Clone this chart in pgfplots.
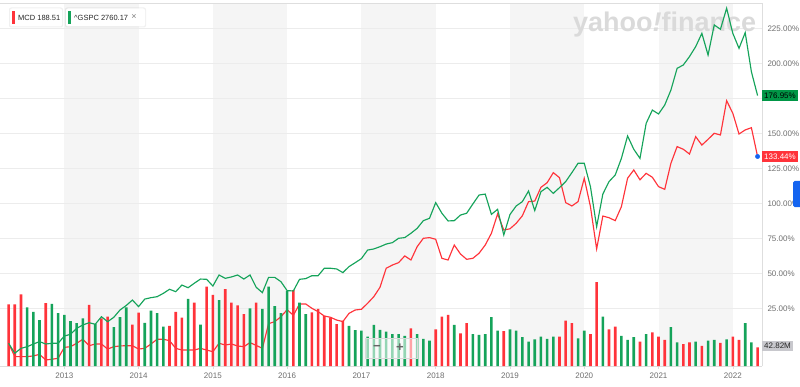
\documentclass[border=0pt]{standalone}
\usepackage{pgfplots}
\pgfplotsset{compat=1.18}
\usepackage{pgfplotstable}
\usepackage{fontspec}
\setmainfont{Liberation Sans}

\definecolor{ured}{RGB}{255,51,58}
\definecolor{ugreen}{RGB}{21,163,90}
\definecolor{gbox}{RGB}{0,150,70}
\definecolor{bandc}{RGB}{245,245,245}
\definecolor{gridc}{RGB}{236,236,236}
\definecolor{linec}{RGB}{222,222,222}
\definecolor{tickc}{RGB}{110,110,110}
\definecolor{legtext}{RGB}{40,40,40}
\definecolor{wmark}{RGB}{218,218,218}
\definecolor{bluedot}{RGB}{20,100,240}
\definecolor{volbox}{RGB}{200,200,205}

\pgfplotstableread{
i mcd spx
0 0 0
1 -9.5 -7.1
2 -9.5 -3.6
3 -9.5 -2.4
4 -9.0 -0.5
5 -7.9 1.2
6 -11.9 -0.5
7 -11.4 0
8 -10.7 0
9 -2.9 5.2
10 -2.4 6.4
11 0 10.7
12 2.9 13.1
13 -1.7 14.7
14 -0.5 13.6
15 -0.5 19.0
16 -4.1 15.4
17 -2.4 18.6
18 -1.9 23.8
19 -1.7 27.0
20 -1.7 30.9
21 -4.1 26.2
22 -3.6 31.6
23 -0.5 32.6
24 2.9 33.3
25 2.9 35.7
26 1.9 38.6
27 -3.6 36.9
28 -4.8 41.6
29 -4.8 39.7
30 -4.8 42.9
31 -3.6 45.9
32 -4.8 45.7
33 -6.0 40.9
34 0 48.8
35 -1.2 46.4
36 -0.5 47.4
37 -1.9 48.8
38 -2.4 45.9
39 0.5 48.8
40 -1.5 40.0
41 -3.6 36.2
42 14.0 47.1
43 15.5 47.1
44 19.0 44.0
45 24.0 37.6
46 20.0 37.4
47 28.1 45.7
48 28.1 46.2
49 25.0 48.3
50 22.6 48.3
51 19.5 53.6
52 18.6 53.6
53 16.6 53.1
54 15.5 50.5
55 21.4 54.8
56 23.8 57.6
57 24.3 60.5
58 28.6 66.6
59 33.3 67.4
60 40.0 69.0
61 53.6 70.9
62 55.9 71.9
63 57.6 75.0
64 62.4 75.5
65 59.5 78.6
66 69.0 82.1
67 75.0 87.6
68 75.5 89.3
69 74.3 100.5
70 60.7 92.9
71 59.5 87.4
72 70.2 87.6
73 63.8 91.6
74 60.0 92.9
75 60.7 99.5
76 64.3 105.9
77 70.2 106.6
78 78.6 92.1
79 92.4 95.7
80 80.9 77.4
81 81.8 92.0
82 85.7 98.1
83 91.1 101.2
84 101.2 108.8
85 101.6 94.8
86 111.4 108.3
87 114.7 111.4
88 121.9 107.1
89 118.3 111.2
90 100.5 115.5
91 98.1 121.9
92 101.2 128.6
93 117.9 128.6
94 97.6 111.9
95 67.4 83.3
96 90.9 106.6
97 89.7 115.5
98 87.6 120.2
99 97.6 132.1
100 117.9 148.1
101 123.8 138.6
102 116.8 132.1
103 121.4 157.1
104 118.6 166.6
105 111.9 163.8
106 110.0 170.2
107 128.6 180.9
108 140.5 196.4
109 138.6 198.8
110 135.2 204.8
111 147.6 211.9
112 141.6 221.4
113 145.7 205.9
114 150.0 227.4
115 148.8 224.3
116 173.3 239.3
117 164.3 221.4
118 149.5 210.7
119 152.4 221.9
120 154.0 194.0
121 133.44 176.95
}\lines

\pgfplotstableread{
i v
0 141
1 141
2 164
6 144
13 140
15 109
16 113
20 95
21 122
26 92
27 124
28 111
30 145
32 182
33 163
35 176
36 145
37 139
38 119
40 145
46 174
49 123
50 131
51 115
52 111
53 96
54 104
65 86
69 84
70 113
71 117
73 75
74 98
80 80
89 67
90 104
91 98
94 73
95 192
97 84
98 90
102 56
104 77
105 67
106 60
109 50
110 54
112 46
115 53
117 67
118 60
121 42.82
}\volred

\pgfplotstableread{
i v
3 134
4 124
5 105
7 142
8 121
9 117
10 103
11 98
12 109
14 96
17 89
18 112
19 134
22 99
23 127
24 121
25 90
29 154
31 95
34 151
39 132
41 131
42 182
43 137
44 121
45 172
47 145
48 119
55 92
56 82
57 81
58 67
59 94
60 83
61 79
62 73
63 73
64 69
66 73
67 62
68 58
72 94
75 73
76 71
77 73
78 112
79 81
81 84
82 81
83 66
84 56
85 61
86 67
87 62
88 67
92 63
93 81
96 113
99 69
100 60
101 66
103 73
107 89
108 54
111 56
113 58
114 60
116 61
119 98
120 54
}\volgreen

\pgfplotsset{base/.style={at={(0pt,20pt)}, anchor=south west, scale only axis,
  width=762pt, height=363pt, xmin=-1.389, xmax=121.715}}

\begin{document}
\begin{tikzpicture}
\useasboundingbox (0,0) rectangle (800pt,386pt);
% background bands
\begin{axis}[base, ymin=-16.21, ymax=243.07, hide axis]
\fill[bandc] (axis cs:9,-16.21) rectangle (axis cs:21,243.07);
\fill[bandc] (axis cs:33,-16.21) rectangle (axis cs:45,243.07);
\fill[bandc] (axis cs:57,-16.21) rectangle (axis cs:69,243.07);
\fill[bandc] (axis cs:81,-16.21) rectangle (axis cs:93,243.07);
\fill[bandc] (axis cs:105,-16.21) rectangle (axis cs:117,243.07);
\end{axis}
% main axis with grid, ticks and MCD line
\begin{axis}[base, ymin=-16.21, ymax=243.07,
  axis x line*=bottom, axis y line*=right,
  axis line style={draw=linec, line width=0.6pt},
  xtick={9,21,33,45,57,69,81,93,105,117},
  xticklabels={2013,2014,2015,2016,2017,2018,2019,2020,2021,2022},
  ytick={25,50,75,100,125,150,175,200,225},
  yticklabels={25.00\%,50.00\%,75.00\%,100.00\%,125.00\%,150.00\%,{},200.00\%,225.00\%},
  ymajorgrids, grid style={draw=gridc, line width=0.5pt},
  tick align=outside, major tick length=3pt,
  xtick style={draw=linec, line width=0.6pt},
  ytick style={draw=none},
  ticklabel style={font=\fontsize{8}{9}\selectfont, text=tickc},
  yticklabel style={anchor=west, xshift=-1pt},
  clip mode=individual]
\draw[linec, line width=0.6pt] (rel axis cs:0,1) -- (rel axis cs:1,1);
\addplot[ured, line width=1.15pt] table[x=i,y=mcd]{\lines};
\end{axis}
% watermark
\node[anchor=base west, text=wmark, font=\bfseries\fontsize{27}{28}\selectfont, inner sep=0pt] at (573pt,354pt) {yahoo\textit{!}finance};
% volume bars
\begin{axis}[base, ymin=0, ymax=831.3, hide axis, clip mode=individual]
\addplot[ybar, bar width=2.6pt, fill=ured, draw=none] table[x=i,y=v]{\volred};
\addplot[ybar, bar width=2.6pt, fill=ugreen, draw=none] table[x=i,y=v]{\volgreen};
\node[anchor=west, fill=volbox, text=legtext, inner xsep=2pt, inner ysep=2.5pt, font=\fontsize{8}{9}\selectfont] at (axis cs:121.715,46) {42.82M};
\end{axis}
% zoom control
\fill[white, opacity=0.55] (365pt,28pt) rectangle (417pt,48pt);
\draw[gray!30] (365pt,28pt) rectangle (417pt,48pt);
\node[text=gray!80!black, font=\bfseries\fontsize{13}{13}\selectfont] at (377pt,38pt) {−};
\node[text=gray!80!black, font=\bfseries\fontsize{13}{13}\selectfont] at (400pt,38pt) {+};
% S&P line and labels
\begin{axis}[base, ymin=-16.21, ymax=243.07, hide axis, clip mode=individual]
\addplot[ugreen, line width=1.15pt] table[x=i,y=spx]{\lines};
\addplot[only marks, mark=*, mark size=2.2pt, color=bluedot] coordinates {(121,133.44)};
\node[anchor=west, fill=gbox, text=black, inner xsep=2pt, inner ysep=2.5pt, font=\fontsize{8}{9}\selectfont] at (axis cs:121.715,176.95) {176.95\%};
\node[anchor=west, fill=ured, text=white, inner xsep=2pt, inner ysep=2.5pt, font=\fontsize{8}{9}\selectfont] at (axis cs:121.715,133.44) {133.44\%};
\end{axis}
% blue side tab
\fill[bluedot, rounded corners=1.5pt] (793pt,179pt) rectangle (803pt,205pt);
% legend chips
\fill[black, opacity=0.06, rounded corners=2pt] (9pt,358.5pt) rectangle (63pt,378.5pt);
\fill[white, rounded corners=2pt] (10pt,359.5pt) rectangle (62pt,377.5pt);
\fill[ured] (12pt,362pt) rectangle (14.6pt,375pt);
\node[anchor=west, text=legtext, font=\fontsize{7.5}{8}\selectfont, inner sep=0pt] at (18pt,368.5pt) {MCD 188.51};
\fill[black, opacity=0.06, rounded corners=2pt] (65pt,358.5pt) rectangle (146pt,378.5pt);
\fill[white, rounded corners=2pt] (66pt,359.5pt) rectangle (145pt,377.5pt);
\fill[ugreen] (68pt,362pt) rectangle (70.6pt,375pt);
\node[anchor=west, text=legtext, font=\fontsize{7.5}{8}\selectfont, inner sep=0pt] at (74pt,368.5pt) {\textasciicircum GSPC 2760.17};
\node[text=gray, font=\fontsize{9}{9}\selectfont, inner sep=0pt] at (134pt,368.5pt) {×};
\end{tikzpicture}
\end{document}
